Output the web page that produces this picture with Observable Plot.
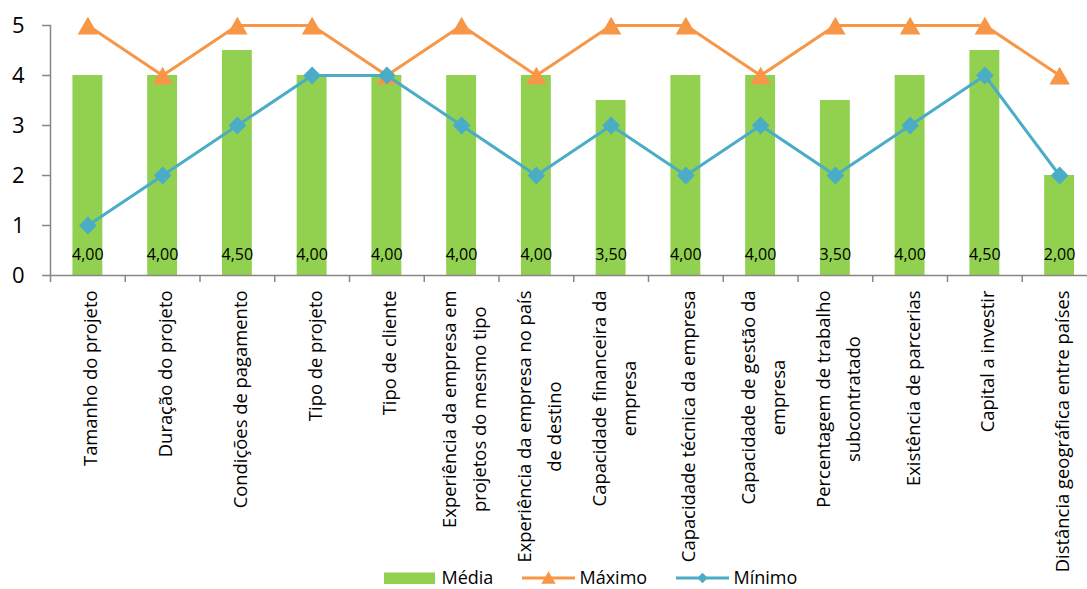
<!DOCTYPE html>
<html><head><meta charset="utf-8">
<script src="https://cdn.jsdelivr.net/npm/d3@7"></script>
<script src="https://cdn.jsdelivr.net/npm/@observablehq/plot@0.6"></script>
<style>
body{margin:0;background:#fff;overflow:hidden;font-family:"Open Sans",sans-serif}
#chart{position:relative;width:1087px;height:589px;overflow:hidden}
#chart svg{display:block;overflow:visible;max-width:none}
</style></head><body><div id="chart"></div>
<script>
const categories = [
  "Tamanho do projeto","Duração do projeto","Condições de pagamento","Tipo de projeto","Tipo de cliente",
  "Experiência da empresa em projetos do mesmo tipo","Experiência da empresa no país de destino",
  "Capacidade financeira da empresa","Capacidade técnica da empresa","Capacidade de gestão da empresa",
  "Percentagem de trabalho subcontratado","Existência de parcerias","Capital a investir",
  "Distância geográfica entre países"
];
const labelLines = [
  "Tamanho do projeto","Duração do projeto","Condições de pagamento","Tipo de projeto","Tipo de cliente",
  "Experiência da empresa em\nprojetos do mesmo tipo","Experiência da empresa no país\nde destino",
  "Capacidade financeira da\nempresa","Capacidade técnica da empresa","Capacidade de gestão da\nempresa",
  "Percentagem de trabalho\nsubcontratado","Existência de parcerias","Capital a investir",
  "Distância geográfica entre países"
];
const media  = [4, 4, 4.5, 4, 4, 4, 4, 3.5, 4, 4, 3.5, 4, 4.5, 2];
const maximo = [5, 4, 5, 5, 4, 5, 4, 5, 5, 4, 5, 5, 5, 4];
const minimo = [1, 2, 3, 4, 4, 3, 2, 3, 2, 3, 2, 3, 4, 2];
const yTicks = [0, 1, 2, 3, 4, 5];
const seriesNames = ["Média", "Máximo", "Mínimo"];

const green = "#92D050", orange = "#F79646", blue = "#4BACC6", axisGray = "#878787";
const data = categories.map((c, i) => ({cat: c, media: media[i], max: maximo[i], min: minimo[i]}));

const xRange = [50, 1096.5];
const step = (xRange[1] - xRange[0]) / categories.length;
const labelSize = 18.4;
const ctx = document.createElement("canvas").getContext("2d");
ctx.font = `${labelSize}px "Open Sans"`;

const labelMarks = categories.map((c, i) => {
  const lines = labelLines[i].split("\n");
  const w = Math.max(...lines.map(l => ctx.measureText(l).width));
  return Plot.text([c], {
    x: d => d, text: () => labelLines[i], frameAnchor: "bottom",
    dy: 15 + w / 2, rotate: -90, textAnchor: "middle", lineAnchor: "middle",
    lineHeight: 1.62, fontSize: labelSize, fill: "#000"
  });
});

const fmt = v => v.toFixed(2).replace(".", ",");

const chart = Plot.plot({
  width: 1087, height: 560,
  marginLeft: 50, marginRight: 0, marginTop: 25, marginBottom: 285,
  style: {fontFamily: "Open Sans", background: "transparent", overflow: "visible"},
  x: {domain: categories, range: xRange, paddingInner: 0.6, paddingOuter: 0.3, round: false, axis: null},
  y: {domain: [0, 5], axis: null},
  marks: [
    Plot.barY(data, {x: "cat", y: "media", fill: green}),
    Plot.text(data, {x: "cat", y: () => 0, dy: -21, text: d => fmt(d.media), fontSize: 16, fill: "#000", lineAnchor: "middle"}),
    Plot.ruleY([0], {stroke: axisGray, strokeWidth: 1.5}),
    Plot.frame({anchor: "left", stroke: axisGray, strokeWidth: 1.5}),
    Plot.ruleX(categories, {x: d => d, y1: 0, y2: 0, dx: -step / 2, insetBottom: -7, stroke: axisGray, strokeWidth: 1.5}),
    Plot.axisY({ticks: yTicks, tickSize: 8, tickPadding: 18, tickFormat: d => String(d), fontSize: 22, stroke: axisGray, strokeWidth: 1.5, fill: "#000", label: null}),
    Plot.line(data, {x: "cat", y: "max", stroke: orange, strokeWidth: 3}),
    Plot.dot(data, {x: "cat", y: "max", symbol: "triangle", r: 7.6, dy: 3, fill: orange, stroke: "none"}),
    Plot.line(data, {x: "cat", y: "min", stroke: blue, strokeWidth: 3}),
    Plot.dot(data, {x: "cat", y: "min", symbol: "diamond2", r: 8, fill: blue, stroke: "none"}),
    ...labelMarks
  ]
});
document.getElementById("chart").appendChild(chart);

// legend below the plot
const legend = d3.create("svg").attr("width", 1087).attr("height", 29)
  .style("display", "block").style("font-family", "Open Sans").style("font-size", "18px");
const items = [
  {x: 384, name: seriesNames[0], type: "bar", color: green},
  {x: 522, name: seriesNames[1], type: "tri", color: orange},
  {x: 676, name: seriesNames[2], type: "dia", color: blue}
];
const cy = 18;
for (const it of items) {
  const g = legend.append("g");
  if (it.type === "bar") {
    g.append("rect").attr("x", it.x).attr("y", cy - 5.5).attr("width", 51).attr("height", 11.5).attr("fill", it.color);
  } else {
    g.append("line").attr("x1", it.x).attr("x2", it.x + 53).attr("y1", cy).attr("y2", cy)
      .attr("stroke", it.color).attr("stroke-width", 3);
    const sym = it.type === "tri" ? d3.symbolTriangle : d3.symbolDiamond2;
    const size = it.type === "tri" ? 90 : 70;
    g.append("path").attr("d", d3.symbol(sym, size)()).attr("transform", `translate(${it.x + 26.5},${cy + (it.type === "tri" ? 1.5 : 0)})`).attr("fill", it.color);
  }
  g.append("text").attr("x", it.x + 57.5).attr("y", cy).attr("dy", "0.33em").attr("fill", "#000").text(it.name);
}
document.getElementById("chart").appendChild(legend.node());
</script>
</body></html>
